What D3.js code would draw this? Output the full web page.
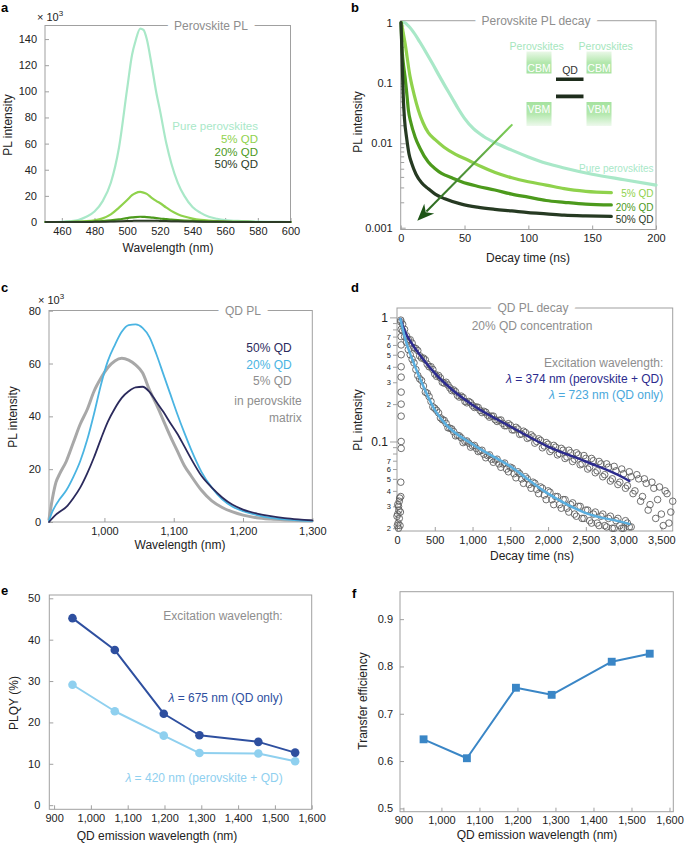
<!DOCTYPE html>
<html>
<head>
<meta charset="utf-8">
<script src="https://cdn.jsdelivr.net/npm/d3@7"></script>
<style>
  body { margin: 0; background: #fff; }
  svg { font-family: "Liberation Sans", Arial, Helvetica, sans-serif; }
  .axis line { stroke: #a0a0a0; }
  .axis text { fill: #222; font-size: 11px; }
</style>
</head>
<body>
<svg id="fig" width="685" height="849"></svg>
<script>
// ---- panel a : perovskite PL spectra (x10^3)
const aWl   = [450, 460, 465, 470, 475, 480, 485, 490, 495, 500, 503, 505, 508, 510, 512, 515, 518, 520, 524, 527, 531, 535, 540, 545, 550, 555, 560, 570, 580, 590, 600];
const aPure = [0, 0.2, 0.6, 1.5, 4, 8, 16, 30, 57, 102, 128, 138, 148, 147, 140, 120, 98, 86, 60, 45, 30, 20, 11.5, 7, 4, 2.5, 1.5, 0.7, 0.3, 0.1, 0];
const a5    = [0, 0, 0.1, 0.3, 0.6, 1.3, 2.8, 5.8, 11, 16.8, 20.5, 22, 23, 22.5, 21.5, 18.5, 16, 14.5, 11, 8.5, 6, 4.2, 2.6, 1.6, 1.0, 0.6, 0.3, 0.1, 0, 0, 0];
const a20   = [0, 0, 0, 0.1, 0.2, 0.4, 0.7, 1.2, 2, 3, 3.5, 3.8, 4, 3.9, 3.8, 3.4, 3, 2.7, 2.2, 1.8, 1.4, 1.1, 0.8, 0.6, 0.4, 0.3, 0.2, 0.1, 0, 0, 0];
const a50   = [0, 0, 0, 0, 0, 0.1, 0.2, 0.3, 0.5, 0.7, 0.85, 0.9, 1.0, 1.0, 1.0, 0.95, 0.9, 0.85, 0.75, 0.65, 0.55, 0.45, 0.35, 0.25, 0.2, 0.15, 0.1, 0.05, 0, 0, 0];
const aXTicks = [460, 480, 500, 520, 540, 560, 580, 600];
const aYTicks = [0, 20, 40, 60, 80, 100, 120, 140];

// ---- panel b : perovskite PL decay
const bPureT = [1.3, 3, 5, 10, 15, 20, 25, 30, 35, 40, 45, 50, 57, 65, 74, 87, 100, 114, 128, 150, 175, 200];
const bPureV = [1.0, 1.0, 0.93, 0.70, 0.48, 0.32, 0.21, 0.135, 0.088, 0.058, 0.038, 0.026, 0.0175, 0.013, 0.0102, 0.0083, 0.0069, 0.0058, 0.0051, 0.0043, 0.0037, 0.0032];
const b5T  = [0.5, 3.4, 7.3, 10.5, 13.8, 17.5, 21.6, 27, 34, 43, 53, 63, 74, 87, 100, 114, 128, 145, 165];
const b5V  = [1.0, 0.46, 0.13, 0.065, 0.036, 0.022, 0.015, 0.0115, 0.0090, 0.0074, 0.0063, 0.0053, 0.0045, 0.0039, 0.0035, 0.0032, 0.0029, 0.0027, 0.0026];
const b20T = [0.3, 0.8, 2, 3.4, 5, 6, 8, 11.2, 15, 21.6, 27, 32, 40, 47.6, 60, 73.7, 87, 100, 114, 128, 145, 165];
const b20V = [1.0, 0.46, 0.22, 0.128, 0.06, 0.036, 0.022, 0.0129, 0.0088, 0.006, 0.005, 0.0044, 0.0039, 0.0035, 0.0031, 0.0028, 0.0025, 0.0023, 0.0021, 0.0020, 0.0019, 0.00186];
const b50T = [0.2, 0.6, 1, 1.5, 2, 3, 4.7, 6.5, 8.6, 12, 16.4, 21.6, 27, 34.6, 47.6, 60, 73.7, 87, 100, 114, 128, 145, 165];
const b50V = [1.0, 0.6, 0.3, 0.13, 0.06, 0.025, 0.012, 0.0075, 0.0058, 0.0043, 0.0034, 0.0029, 0.0025, 0.0022, 0.0019, 0.00175, 0.00165, 0.00158, 0.00151, 0.00146, 0.00141, 0.00138, 0.00136];
const bXTicks = [0, 50, 100, 150, 200];
const bDecades = [0.001, 0.01, 0.1, 1];
const bArrow = { t0: 87.5, v0: 0.0207, t1: 13, v1: 0.00121 };

// ---- panel c : QD PL spectra (x10^3)
const cWl  = [920, 925, 930, 935, 945, 955, 965, 975, 985, 995, 1005, 1015, 1025, 1035, 1045, 1055, 1065, 1075, 1085, 1095, 1105, 1115, 1125, 1140, 1155, 1170, 1185, 1200, 1220, 1240, 1260, 1280, 1300];
const c50  = [0, 1.5, 2.8, 3.8, 5.7, 9, 13, 18.3, 24.5, 31.5, 38, 43, 47, 49.5, 51, 51.2, 49.3, 45.5, 41.7, 37.5, 33.5, 28.8, 24, 17.5, 13, 9.3, 6.5, 4.7, 3.2, 2.2, 1.5, 1.0, 0.6];
const c20  = [0.5, 4, 6.5, 8.5, 12, 17, 23, 31, 41, 52, 61, 67, 72, 74.5, 74.8, 73.5, 70, 63.5, 56, 48.5, 41, 34, 27.5, 19, 13, 8.6, 5.8, 4.1, 2.6, 1.6, 1.0, 0.6, 0.4];
const c5   = [1, 9, 15, 18, 23, 30, 37, 42.5, 49.5, 54.5, 58.5, 61, 62, 61.3, 59.5, 56.5, 50, 44.5, 38.5, 32.5, 27, 21.5, 17.5, 12, 8, 5.5, 3.8, 2.6, 1.6, 1.1, 0.8, 0.6, 0.5];
const cXTicks = [1000, 1100, 1200, 1300];
const cYTicks = [0, 20, 40, 60, 80];

// ---- panel d : QD PL decay, 20% QD (open circles = measured, lines = fits)
const dUpT = [50, 75, 100, 125, 150, 175, 200, 225, 250, 275, 300, 325, 350, 375, 400, 425, 450, 475, 500, 525,
  550, 575, 600, 625, 650, 675, 700, 725, 750, 775, 800, 825, 850, 875, 900, 925, 950, 975, 1000, 1025,
  1050, 1075, 1100, 1125, 1150, 1175, 1200, 1225, 1250, 1275, 1300, 1325, 1350, 1375, 1400, 1425, 1450, 1475, 1500, 1525,
  1550, 1575, 1600, 1625, 1650, 1675, 1700, 1725, 1750, 1775, 1800, 1825, 1850, 1875, 1900, 1925, 1950, 1975, 2000, 2025,
  2050, 2075, 2100, 2125, 2150, 2175, 2200, 2225, 2250, 2275, 2300, 2325, 2350, 2375, 2400, 2425, 2450, 2475, 2500, 2525,
  2550, 2575, 2600, 2625, 2650, 2675, 2700, 2725, 2750, 2775, 2800, 2825, 2850, 2875, 2900, 2925, 2950, 2975, 3000, 3025,
  3050, 3075, 3100, 3125, 3150, 3175, 3200, 3225, 3250, 3275, 3300, 3325, 3350, 3375, 3400, 3425, 3450, 3475, 3500, 3525,
  3550, 3575, 3600, 3625, 3650];
const dUpV = [0.95, 0.88, 0.80, 0.71, 0.66, 0.66, 0.62, 0.57, 0.56, 0.54, 0.49, 0.47, 0.47, 0.455, 0.42, 0.40, 0.40, 0.38, 0.35, 0.335,
  0.34, 0.325, 0.30, 0.295, 0.30, 0.285, 0.27, 0.257, 0.26, 0.252, 0.235, 0.228, 0.232, 0.226, 0.21, 0.205, 0.21, 0.205, 0.195, 0.188,
  0.19, 0.188, 0.178, 0.171, 0.175, 0.172, 0.163, 0.157, 0.16, 0.160, 0.15, 0.145, 0.148, 0.149, 0.14, 0.134, 0.134, 0.139, 0.135, 0.124,
  0.124, 0.130, 0.126, 0.114, 0.115, 0.121, 0.118, 0.106, 0.108, 0.113, 0.109, 0.097, 0.100, 0.105, 0.102, 0.089, 0.092, 0.098, 0.095, 0.083,
  0.086, 0.093, 0.090, 0.078, 0.080, 0.088, 0.085, 0.073, 0.075, 0.085, 0.081, 0.069, 0.072, 0.081, 0.078, 0.065, 0.066, 0.077, 0.073, 0.060,
  0.062, 0.073, 0.070, 0.056, 0.058, 0.069, 0.066, 0.052, 0.054, 0.066, 0.062, 0.048, 0.050, 0.063, 0.058, 0.045, 0.047, 0.060, 0.055, 0.042,
  0.044, 0.057, 0.052, 0.038, 0.040, 0.054, 0.050, 0.033, 0.036, 0.050, 0.046, 0.028, 0.031, 0.047, 0.042, 0.024, 0.034, 0.043, 0.026, 0.021,
  0.040, 0.038, 0.022, 0.027, 0.033];
const dLoT = [50, 75, 100, 125, 150, 175, 200, 225, 250, 275, 300, 325, 350, 375, 400, 425, 450, 475, 500, 525,
  550, 575, 600, 625, 650, 675, 700, 725, 750, 775, 800, 825, 850, 875, 900, 925, 950, 975, 1000, 1025,
  1050, 1075, 1100, 1125, 1150, 1175, 1200, 1225, 1250, 1275, 1300, 1325, 1350, 1375, 1400, 1425, 1450, 1475, 1500, 1525,
  1550, 1575, 1600, 1625, 1650, 1675, 1700, 1725, 1750, 1775, 1800, 1825, 1850, 1875, 1900, 1925, 1950, 1975, 2000, 2025,
  2050, 2075, 2100, 2125, 2150, 2175, 2200, 2225, 2250, 2275, 2300, 2325, 2350, 2375, 2400, 2425, 2450, 2475, 2500, 2525,
  2550, 2575, 2600, 2625, 2650, 2675, 2700, 2725, 2750, 2775, 2800, 2825, 2850, 2875, 2900, 2925, 2950, 2975, 3000, 3025,
  3050, 3075, 3100];
const dLoV = [0.92, 0.78, 0.70, 0.63, 0.55, 0.50, 0.46, 0.43, 0.38, 0.34, 0.32, 0.31, 0.28, 0.25, 0.245, 0.23, 0.21, 0.19, 0.185, 0.178,
  0.17, 0.155, 0.15, 0.148, 0.14, 0.129, 0.128, 0.126, 0.12, 0.111, 0.112, 0.111, 0.107, 0.098, 0.100, 0.101, 0.097, 0.090, 0.092, 0.093,
  0.088, 0.083, 0.084, 0.085, 0.079, 0.074, 0.077, 0.078, 0.072, 0.068, 0.071, 0.072, 0.066, 0.062, 0.066, 0.067, 0.060, 0.057, 0.062, 0.061,
  0.055, 0.051, 0.057, 0.055, 0.050, 0.046, 0.052, 0.050, 0.045, 0.042, 0.047, 0.046, 0.041, 0.038, 0.043, 0.042, 0.037, 0.034, 0.040, 0.039,
  0.034, 0.031, 0.036, 0.036, 0.031, 0.029, 0.034, 0.034, 0.029, 0.027, 0.031, 0.032, 0.026, 0.025, 0.030, 0.030, 0.024, 0.024, 0.028, 0.028,
  0.023, 0.022, 0.026, 0.027, 0.022, 0.021, 0.025, 0.026, 0.021, 0.0205, 0.024, 0.025, 0.020, 0.020, 0.023, 0.024, 0.021, 0.020, 0.020, 0.023,
  0.022, 0.0205, 0.0205];
const dRiseT = [55, 55, 55, 55, 55, 55, 55, 55, 55, 55, 55, 50, 50, 30, 20, 25, 10, 30, 15, 5, 20, 35, 0, 10, 40, 45];
const dRiseV = [0.8, 0.7, 0.6, 0.5, 0.4, 0.33, 0.25, 0.2, 0.16, 0.1, 0.088, 0.047, 0.036, 0.033, 0.03, 0.028, 0.026, 0.024, 0.022, 0.021, 0.02, 0.035, 0.025, 0.031, 0.021, 0.027];
const dFitUpT = [45, 100, 200, 300, 500, 750, 1000, 1500, 2000, 2500, 3000, 3075];
const dFitUpV = [0.97, 0.78, 0.61, 0.50, 0.355, 0.255, 0.197, 0.132, 0.091, 0.069, 0.051, 0.048];
const dFitLoT = [45, 125, 190, 370, 500, 634, 1000, 1500, 2000, 2500, 3000, 3075];
const dFitLoV = [0.97, 0.62, 0.48, 0.26, 0.18, 0.14, 0.095, 0.063, 0.038, 0.0265, 0.0223, 0.0217];
const dXTicks = [0, 500, 1000, 1500, 2000, 2500, 3000, 3500];

// ---- panel e : PLQY
const eWl     = [950, 1065, 1198, 1295, 1455, 1555];
const eQdOnly = [45.2, 37.5, 22.1, 16.9, 15.3, 12.7];
const ePerQd  = [29.1, 22.7, 16.8, 12.6, 12.5, 10.6];
const eYTicks = [0, 10, 20, 30, 40, 50];

// ---- panel f : transfer efficiency
const fWl  = [953, 1067, 1196, 1290, 1448, 1548];
const fEff = [0.646, 0.606, 0.755, 0.740, 0.810, 0.827];
const fYTicks = [0.5, 0.6, 0.7, 0.8, 0.9];
const efXTicks = [900, 1000, 1100, 1200, 1300, 1400, 1500, 1600];

const svg = d3.select("#fig");
const AX = "#a0a0a0", GT = "#8e8e8e";
const comma = d3.format(",");

function frame(box, title, tx) {
  svg.append("rect")
    .attr("x", box.l).attr("y", box.t)
    .attr("width", box.r - box.l).attr("height", box.b - box.t)
    .attr("fill", "none").attr("stroke", AX);
  if (title) {
    svg.append("text")
      .attr("x", tx).attr("y", box.t).attr("dy", "0.35em")
      .attr("text-anchor", "middle").attr("font-size", 12).attr("fill", GT)
      .attr("stroke", "#fff").attr("stroke-width", 14).attr("paint-order", "stroke")
      .text(title);
  }
}

function axisBottom(x, box, ticks, fmt) {
  svg.append("g").attr("class", "axis")
    .attr("transform", `translate(0,${box.b})`)
    .call(d3.axisBottom(x).tickValues(ticks).tickFormat(fmt || null).tickSize(-4).tickPadding(5))
    .call(g => g.select(".domain").remove());
}

function axisLeft(y, box, ticks, fmt, pad) {
  return svg.append("g").attr("class", "axis")
    .attr("transform", `translate(${box.l},0)`)
    .call(d3.axisLeft(y).tickValues(ticks).tickFormat(fmt || null).tickSize(-4).tickPadding(pad || 8))
    .call(g => g.select(".domain").remove());
}

function label(x, y, str, opt = {}) {
  const t = svg.append("text").attr("x", x).attr("y", y)
    .attr("font-size", opt.size || 12)
    .attr("fill", opt.color || "#222")
    .attr("text-anchor", opt.anchor || "middle");
  if (opt.rotate) t.attr("transform", `rotate(-90,${x},${y})`);
  if (opt.bold) t.attr("font-weight", "bold");
  t.text(str);
  return t;
}

function lambda(x, y, rest, color) {
  const t = svg.append("text").attr("x", x).attr("y", y)
    .attr("font-size", 12).attr("fill", color).attr("text-anchor", "end");
  t.append("tspan").attr("font-style", "italic").text("λ");
  t.append("tspan").text(rest);
}

function times10(x, y) {
  const t = svg.append("text").attr("x", x).attr("y", y).attr("font-size", 11).attr("fill", "#222");
  t.append("tspan").text("× 10");
  t.append("tspan").attr("font-size", 8).attr("dy", -5).text("3");
}

function drawLine(x, y, xs, ys, color, w, curve) {
  const line = d3.line().x(i => x(xs[i])).y(i => y(ys[i])).curve(curve || d3.curveMonotoneX);
  svg.append("path")
    .attr("d", line(d3.range(xs.length)))
    .attr("fill", "none").attr("stroke", color).attr("stroke-width", w)
    .attr("stroke-linejoin", "round").attr("stroke-linecap", "round");
}

// ================= a =================
{
  const box = { l: 45, r: 290.5, t: 25.5, b: 222 };
  const x = d3.scaleLinear().domain([450, 600]).range([45.5, 290.5]);
  const y = d3.scaleLinear().domain([0, 150]).range([222, 26]);
  frame(box, "Perovskite PL", 211);
  axisBottom(x, box, aXTicks);
  axisLeft(y, box, aYTicks);
  drawLine(x, y, aWl, aPure, "#a9e8c8", 2.2);
  drawLine(x, y, aWl, a5, "#8fd24c", 2.2);
  drawLine(x, y, aWl, a20, "#4c9a1c", 2.2);
  drawLine(x, y, aWl, a50, "#2c3b26", 2);
  times10(37, 21);
  label(11.5, 125, "PL intensity", { rotate: true });
  label(168, 252, "Wavelength (nm)");
  label(258, 130, "Pure perovskites", { anchor: "end", size: 11.5, color: "#a9e8c8" });
  label(258, 143, "5% QD", { anchor: "end", size: 11.5, color: "#8fd24c" });
  label(258, 155.5, "20% QD", { anchor: "end", size: 11.5, color: "#4c9a1c" });
  label(258, 168, "50% QD", { anchor: "end", size: 11.5, color: "#2c3b26" });
  label(1, 11.5, "a", { anchor: "start", bold: true, size: 13, color: "#000" });
}

// ================= b =================
{
  const box = { l: 400.7, r: 656, t: 20.7, b: 229.5 };
  const x = d3.scaleLinear().domain([0, 200]).range([400.7, 656]);
  const y = d3.scaleLog().domain(bDecades).range([227.7, 143.3, 83.3, 22.7]);
  frame(box, "Perovskite PL decay", 536);
  axisBottom(x, box, bXTicks);
  const minors = bDecades.slice(0, 3).flatMap(d => [2, 3, 4, 5, 6, 7, 8, 9].map(k => d * k));
  const isMajor = d => Math.abs(Math.log10(d) - Math.round(Math.log10(d))) < 1e-6;
  axisLeft(y, box, bDecades.concat(minors), d => isMajor(d) ? String(d) : "")
    .call(g => g.selectAll(".tick line").attr("x2", d => isMajor(d) ? 5 : 3.5));

  // energy diagram inset
  const defs = svg.append("defs");
  const gUp = defs.append("linearGradient").attr("id", "cbm").attr("x1", 0).attr("y1", 0).attr("x2", 0).attr("y2", 1);
  gUp.append("stop").attr("offset", 0).attr("stop-color", "#eaf8e8");
  gUp.append("stop").attr("offset", 0.5).attr("stop-color", "#b4e8ae");
  gUp.append("stop").attr("offset", 1).attr("stop-color", "#a6e2a0");
  const gDn = defs.append("linearGradient").attr("id", "vbm").attr("x1", 0).attr("y1", 0).attr("x2", 0).attr("y2", 1);
  gDn.append("stop").attr("offset", 0).attr("stop-color", "#a6e2a0");
  gDn.append("stop").attr("offset", 0.5).attr("stop-color", "#b4e8ae");
  gDn.append("stop").attr("offset", 1).attr("stop-color", "#eef9ed");
  [[526.5, 536.7], [586.5, 605.7]].forEach(([bx, lx]) => {
    svg.append("rect").attr("x", bx).attr("y", 51.5).attr("width", 25).attr("height", 22).attr("fill", "url(#cbm)");
    svg.append("rect").attr("x", bx).attr("y", 102).attr("width", 25).attr("height", 24).attr("fill", "url(#vbm)");
    label(bx + 12.5, 72, "CBM", { size: 10.5, color: "#fff" });
    label(bx + 12.5, 112.5, "VBM", { size: 10.5, color: "#fff" });
    label(lx, 49.5, "Perovskites", { size: 10.5, color: "#a6e6bd" });
  });
  svg.append("rect").attr("x", 556).attr("y", 77.5).attr("width", 27.5).attr("height", 3.5).attr("fill", "#1e2d1c");
  svg.append("rect").attr("x", 556).attr("y", 94.5).attr("width", 27.5).attr("height", 3.8).attr("fill", "#1e2d1c");
  label(570, 74, "QD", { size: 10.5, color: "#333" });

  drawLine(x, y, bPureT, bPureV, "#a9e8c8", 3.2);
  drawLine(x, y, b5T, b5V, "#8fd24c", 3.2);
  drawLine(x, y, b20T, b20V, "#4c9a1c", 3.2);
  drawLine(x, y, b50T, b50V, "#263a22", 3.2);

  // arrow
  const x0 = x(bArrow.t0), y0 = y(bArrow.v0), x1 = x(bArrow.t1), y1 = y(bArrow.v1);
  const ang = Math.atan2(y1 - y0, x1 - x0), L = 17, W = 7;
  const grad = defs.append("linearGradient").attr("id", "arr").attr("gradientUnits", "userSpaceOnUse")
    .attr("x1", x0).attr("y1", y0).attr("x2", x1).attr("y2", y1);
  grad.append("stop").attr("offset", 0).attr("stop-color", "#7fd05a");
  grad.append("stop").attr("offset", 1).attr("stop-color", "#1f5a17");
  const bx = x1 - L * Math.cos(ang), by = y1 - L * Math.sin(ang);
  svg.append("line").attr("x1", x0).attr("y1", y0).attr("x2", bx + 4 * Math.cos(ang)).attr("y2", by + 4 * Math.sin(ang))
    .attr("stroke", "url(#arr)").attr("stroke-width", 2);
  const px = -Math.sin(ang), py = Math.cos(ang);
  const nx = x1 - (L - 5) * Math.cos(ang), ny = y1 - (L - 5) * Math.sin(ang);
  svg.append("path")
    .attr("d", `M${x1},${y1}L${bx + W * px},${by + W * py}L${nx},${ny}L${bx - W * px},${by - W * py}Z`)
    .attr("fill", "#1d5416");

  label(362, 122, "PL intensity", { rotate: true });
  label(528, 262, "Decay time (ns)");
  label(653.5, 171.5, "Pure perovskites", { anchor: "end", size: 10, color: "#a9e8c8" });
  label(653.5, 197, "5% QD", { anchor: "end", size: 10, color: "#8fd24c" });
  label(653.5, 211, "20% QD", { anchor: "end", size: 10, color: "#4c9a1c" });
  label(653.5, 222.5, "50% QD", { anchor: "end", size: 10, color: "#2c3b26" });
  label(351, 11.5, "b", { anchor: "start", bold: true, size: 13, color: "#000" });
}

// ================= c =================
{
  const box = { l: 49, r: 312.3, t: 310.5, b: 522 };
  const x = d3.scaleLinear().domain([920, 1300]).range([49, 312.3]);
  const y = d3.scaleLinear().domain([0, 80]).range([522, 310.7]);
  frame(box, "QD PL", 243);
  axisBottom(x, box, cXTicks, comma);
  axisLeft(y, box, cYTicks);
  drawLine(x, y, cWl, c5, "#a8a8a8", 3);
  drawLine(x, y, cWl, c20, "#4ab4e2", 1.8);
  drawLine(x, y, cWl, c50, "#2b2a5c", 1.8);
  times10(38, 303.5);
  label(17, 417, "PL intensity", { rotate: true });
  label(180, 549, "Wavelength (nm)");
  label(291.7, 352, "50% QD", { anchor: "end", color: "#2b2a5c" });
  label(291.7, 369, "20% QD", { anchor: "end", color: "#4ab4e2" });
  label(291.7, 385, "5% QD", { anchor: "end", color: GT });
  label(301.7, 405, "in perovskite", { anchor: "end", color: GT });
  label(301.7, 422, "matrix", { anchor: "end", color: GT });
  label(1, 292, "c", { anchor: "start", bold: true, size: 13, color: "#000" });
}

// ================= d =================
{
  const box = { l: 397, r: 672.7, t: 308, b: 531 };
  const x = d3.scaleLinear().domain([0, 3650]).range([397, 672.7]);
  const y = d3.scaleLog().domain([0.019, 1.19]).range([531, 308]);
  frame(box, "QD PL decay", 533);
  axisBottom(x, box, dXTicks, comma);
  const majors = [0.1, 1];
  const minors = [0.01, 0.1].flatMap(d => [2, 3, 4, 5, 6, 7, 8, 9].map(k => +(d * k).toPrecision(3)));
  const isMajor = d => majors.includes(d);
  const lead = d => Math.round(d / Math.pow(10, Math.floor(Math.log10(d) + 1e-9)));
  svg.append("g").attr("class", "axis")
    .attr("transform", `translate(${box.l},0)`)
    .call(d3.axisLeft(y).tickValues(majors.concat(minors))
      .tickFormat(d => isMajor(d) ? String(d) : (lead(d) <= 7 ? String(lead(d)) : ""))
      .tickSize(4).tickPadding(2))
    .call(g => g.select(".domain").remove())
    .call(g => g.selectAll(".tick line").attr("x2", d => isMajor(d) ? -7 : -4))
    .call(g => g.selectAll(".tick text")
      .attr("x", d => isMajor(d) ? -9 : -6)
      .style("font-size", d => isMajor(d) ? "12px" : "7.5px"));

  const circ = (ts, vs) => svg.append("g").selectAll("circle")
    .data(d3.range(ts.length)).join("circle")
    .attr("cx", i => x(ts[i])).attr("cy", i => y(vs[i])).attr("r", 3.3)
    .attr("fill", "none").attr("stroke", "#5f5f5f").attr("stroke-width", 0.9);
  circ(dRiseT, dRiseV);
  circ(dUpT, dUpV);
  circ(dLoT, dLoV);
  drawLine(x, y, dFitUpT, dFitUpV, "#2c2b8e", 2.5);
  drawLine(x, y, dFitLoT, dFitLoV, "#5aafe0", 2.5);

  label(532, 330, "20% QD concentration", { color: GT });
  label(663.3, 367.3, "Excitation wavelength:", { anchor: "end", color: GT });
  lambda(663.3, 383.3, " = 374 nm (perovskite + QD)", "#2c2b8e");
  lambda(663.3, 399, " = 723 nm (QD only)", "#4aa8dc");
  label(362, 420, "PL intensity", { rotate: true });
  label(532, 560, "Decay time (ns)");
  label(351, 292, "d", { anchor: "start", bold: true, size: 13, color: "#000" });
}

// ================= e =================
{
  const box = { l: 49.3, r: 311.7, t: 595, b: 809.3 };
  const x = d3.scaleLinear().domain([887, 1600]).range([49.3, 311.7]);
  const y = d3.scaleLinear().domain([-1, 50.8]).range([809.3, 595]);
  frame(box);
  axisBottom(x, box, efXTicks, comma);
  axisLeft(y, box, eYTicks, null, 9);
  [[ePerQd, "#8fd0ef"], [eQdOnly, "#2e4f9f"]].forEach(([vals, col]) => {
    drawLine(x, y, eWl, vals, col, 2, d3.curveLinear);
    svg.append("g").selectAll("circle").data(d3.range(eWl.length)).join("circle")
      .attr("cx", i => x(eWl[i])).attr("cy", i => y(vals[i])).attr("r", 4.3).attr("fill", col);
  });
  label(282.7, 619.7, "Excitation wavelength:", { anchor: "end", color: GT });
  lambda(282.7, 702, " = 675 nm (QD only)", "#2e4f9f");
  lambda(282.7, 781.7, " = 420 nm (perovskite + QD)", "#8fd0ef");
  label(18, 703, "PLQY (%)", { rotate: true });
  label(157, 840, "QD emission wavelength (nm)");
  label(1, 595, "e", { anchor: "start", bold: true, size: 13, color: "#000" });
}

// ================= f =================
{
  const box = { l: 400, r: 673.3, t: 591.7, b: 811.7 };
  const x = d3.scaleLinear().domain([891, 1610]).range([400, 673.3]);
  const y = d3.scaleLinear().domain([0.493, 0.958]).range([811.7, 591.7]);
  frame(box);
  axisBottom(x, box, efXTicks, comma);
  axisLeft(y, box, fYTicks, d3.format(".1f"), 7);
  drawLine(x, y, fWl, fEff, "#3a86c6", 2, d3.curveLinear);
  svg.append("g").selectAll("path").data(d3.range(fWl.length)).join("path")
    .attr("transform", i => `translate(${x(fWl[i])},${y(fEff[i])})`)
    .attr("d", d3.symbol(d3.symbolSquare, 62))
    .attr("fill", "#3a86c6");
  label(367, 701, "Transfer efficiency", { rotate: true });
  label(537, 839, "QD emission wavelength (nm)");
  label(352, 598, "f", { anchor: "start", bold: true, size: 13, color: "#000" });
}
</script>
</body>
</html>
